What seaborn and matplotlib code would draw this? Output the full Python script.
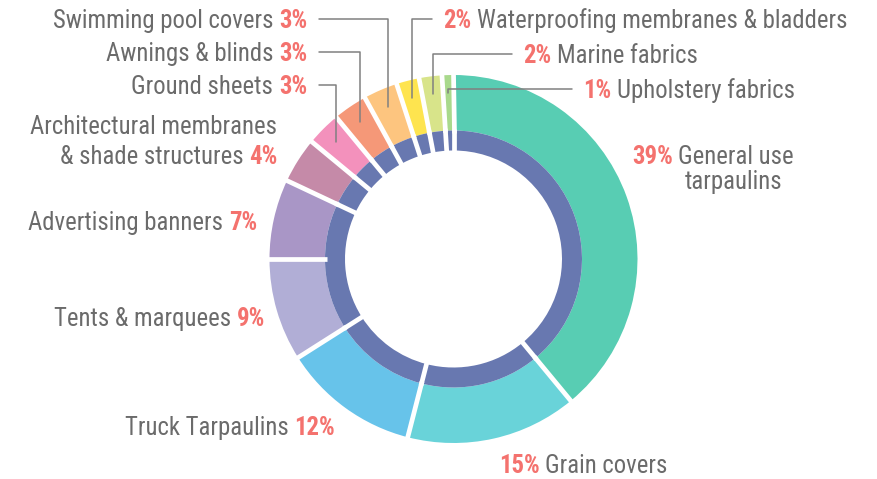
import numpy as np
import pandas as pd
import matplotlib.pyplot as plt
import seaborn as sns
from matplotlib import font_manager as fm

# Данные: доли сегментов по часовой стрелке от верха
categories = ["General use", "Grain covers", "Truck Tarpaulins", "Tents & marquees",
              "Advertising banners", "& shade structures", "Ground sheets",
              "Awnings & blinds", "Swimming pool covers",
              "Waterproofing membranes & bladders", "Marine fabrics", "Upholstery fabrics"]
shares = [39, 15, 12, 9, 7, 4, 3, 3, 3, 2, 2, 1]
pct_labels = ["39%", "15%", "12%", "9%", "7%", "4%", "3%", "3%", "3%", "2%", "2%", "1%"]
# внутреннее кольцо: тенты и баннеры идут одним сегментом
inner_groups = [0, 1, 2, 3, 3, 4, 5, 6, 7, 8, 9, 10]

colors = ["#58cdb3", "#69d3d9", "#67c3ea", "#b1aed6", "#a996c6", "#c58aa8",
          "#f391bc", "#f59878", "#fdc57f", "#fee44f", "#d8e48a", "#a9d98c"]
DARK = "#6878b0"
PCT = "#f4726e"
GREY = "#6b6b6b"
LEAD = "#808080"

sns.set_theme(style="white")
installed = {f.name for f in fm.fontManager.ttflist}
if "Roboto Condensed" in installed:
    plt.rcParams['font.family'] = ['Roboto Condensed', 'DejaVu Sans']
    FS = 17.8
else:
    plt.rcParams['font.family'] = ['Roboto', 'DejaVu Sans']
    FS = 15

W, H = 877, 479
fig = plt.figure(figsize=(W / 100, H / 100), dpi=100)
ax = fig.add_axes([0, 0, 1, 1])

cx, cy = 453.5, H - 259
R_OUT, R_MID, R_IN = 184, 128.5, 108.5

ax.pie(shares, radius=R_OUT, center=(cx, cy), startangle=90, counterclock=False,
       colors=colors, wedgeprops=dict(width=R_OUT - R_MID, linewidth=0))
inner = pd.Series(shares).groupby(inner_groups).sum()
ax.pie(inner.values, radius=R_MID, center=(cx, cy), startangle=90, counterclock=False,
       colors=[DARK] * len(inner), wedgeprops=dict(width=R_MID - R_IN, linewidth=0))


def gap_lines(values, r0, r1):
    for c in np.cumsum(values):
        a = np.radians(90 - 360 * c / 100)
        ax.plot([cx + r0 * np.cos(a), cx + r1 * np.cos(a)],
                [cy + r0 * np.sin(a), cy + r1 * np.sin(a)],
                color="white", lw=3.4, solid_capstyle="butt", zorder=3)


gap_lines(shares, R_MID - 2, R_OUT + 3)
gap_lines(inner.values, R_IN - 3, R_MID + 2)

CAP = 8.7


def label(i, x, yc, side, lead=False):
    yb = H - (yc + CAP)
    if side == "left":
        p = ax.text(x, yb, pct_labels[i], ha="right", va="baseline", fontsize=FS,
                    color=PCT, fontweight="bold")
        n = ax.annotate(categories[i], xy=(0, 0), xycoords=p, xytext=(-4, 0),
                        textcoords="offset points", ha="right", va="bottom",
                        fontsize=FS, color=GREY)
        x0 = x + 12
    else:
        p = ax.text(x, yb, pct_labels[i], ha="left", va="baseline", fontsize=FS,
                    color=PCT, fontweight="bold")
        n = ax.annotate(categories[i], xy=(1, 0), xycoords=p, xytext=(4, 0),
                        textcoords="offset points", ha="left", va="bottom",
                        fontsize=FS, color=GREY)
        x0 = x - 11
    if lead:
        c = sum(shares[:i]) + shares[i] / 2
        a = np.radians(90 - 360 * c / 100)
        ex, ey = cx + 166 * np.cos(a), cy + 166 * np.sin(a)
        ly = H - yc
        ax.plot([x0, ex, ex], [ly, ly, ey], color=LEAD, lw=1.1, zorder=4)
    return n


n0 = label(0, 632, 155, "right")
ax.annotate("tarpaulins", xy=(0.5, 0), xycoords=n0, xytext=(-2, -1),
            textcoords="offset points", ha="center", va="top", fontsize=FS, color=GREY)
label(1, 499, 464, "right")
label(2, 335, 426, "left")
label(3, 265, 317, "left")
label(4, 257, 221, "left")
ax.text(277, H - (125 + CAP), "Architectural membranes", ha="right", va="baseline",
        fontsize=FS, color=GREY)
label(5, 278, 155, "left")
label(6, 307, 85, "left", lead=True)
label(7, 307, 52, "left", lead=True)
label(8, 307, 19, "left", lead=True)
label(9, 443, 19, "right", lead=True)
label(10, 523, 54, "right", lead=True)
label(11, 583, 89, "right", lead=True)

ax.set_xlim(0, W)
ax.set_ylim(0, H)
ax.set_aspect("equal")
ax.axis("off")

fig.savefig("out.png", dpi=100)
